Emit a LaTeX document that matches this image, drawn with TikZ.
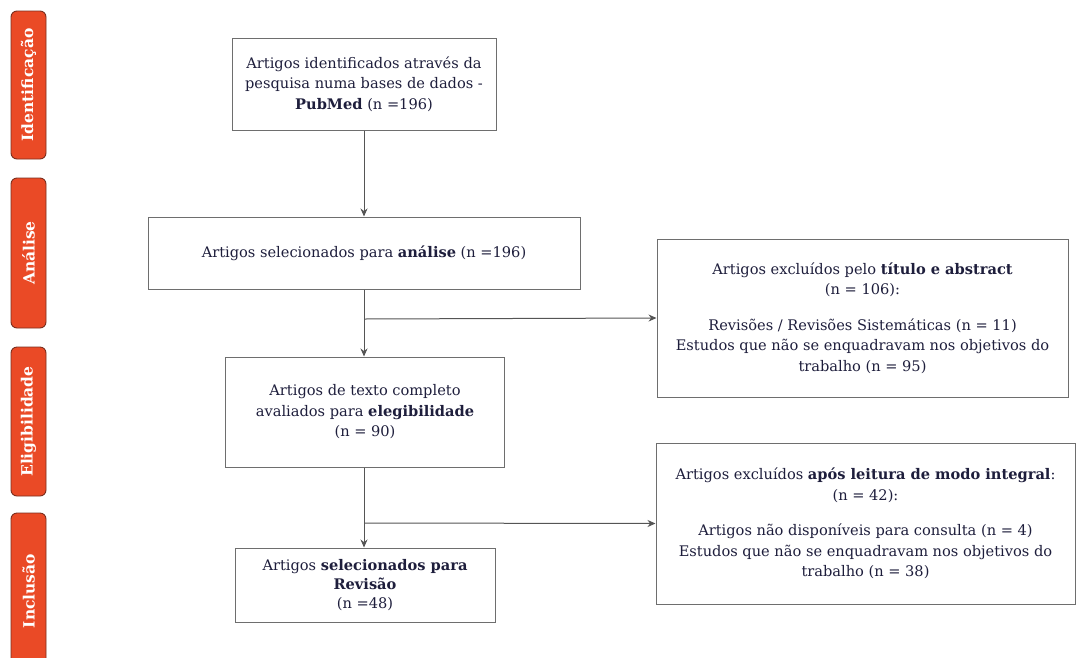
\documentclass[tikz,border=0pt]{standalone}
\usepackage{fontspec}
\setmainfont{DejaVu Serif}
\usetikzlibrary{arrows.meta}
\definecolor{txt}{HTML}{1E1E3C}
\definecolor{lab}{HTML}{EA4A26}
\definecolor{labedge}{HTML}{7A2E1E}
\definecolor{ln}{HTML}{555555}
\tikzset{
  box/.style={draw=ln!85, line width=1pt, fill=white, align=center, text=txt,
    inner sep=0pt, font=\fontsize{14.6}{20.5}\selectfont},
  sidelab/.style={draw=labedge, line width=0.9pt, fill=lab, rounded corners=6pt,
    minimum width=35pt, text=white, font=\bfseries\fontsize{15.5}{17}\selectfont,
    inner sep=0pt},
  conn/.style={draw=ln, line width=1pt},
  arr/.style={conn, -{Stealth[length=8pt,width=7pt]}}
}
\begin{document}
\begin{tikzpicture}[x=1pt,y=-1pt]
\useasboundingbox (0,0) rectangle (1077,657);
% side labels
\node[sidelab, minimum height=148pt] (l1) at (28.5,85) {\rotatebox{90}{Identificação}};
\node[sidelab, minimum height=150pt] (l2) at (28.5,253) {\rotatebox{90}{Análise}};
\node[sidelab, minimum height=149pt] (l3) at (28.5,421.5) {\rotatebox{90}{Eligibilidade}};
\node[sidelab, minimum height=156pt] (l4) at (28.5,591) {\rotatebox{90}{Inclusão}};
% main boxes
\node[box, minimum width=264pt, minimum height=92pt] (b1) at (364,84)
  {Artigos identificados através da\\ pesquisa numa bases de dados -\\ \textbf{PubMed} (n =196)};
\node[box, minimum width=432pt, minimum height=72pt] (b2) at (364,253)
  {Artigos selecionados para \textbf{análise} (n =196)};
\node[box, minimum width=279pt, minimum height=110pt] (b3) at (365,412)
  {Artigos de texto completo\\ avaliados para \textbf{elegibilidade}\\ (n = 90)};
\node[box, minimum width=260pt, minimum height=74pt, font=\fontsize{14.6}{19}\selectfont] (b4) at (365,585)
  {Artigos \textbf{selecionados para}\\ \textbf{Revisão}\\ (n =48)};
% exclusion boxes
\node[box, minimum width=411pt, minimum height=158pt] (r1) at (862.5,318)
  {Artigos excluídos pelo \textbf{título e abstract}\\ (n = 106):\\[15pt]
   Revisões / Revisões Sistemáticas (n = 11)\\
   Estudos que não se enquadravam nos objetivos do\\ trabalho (n = 95)};
\node[box, minimum width=419pt, minimum height=161pt] (r2) at (865.5,523.5)
  {Artigos excluídos \textbf{após leitura de modo integral}:\\ (n = 42):\\[15pt]
   Artigos não disponíveis para consulta (n = 4)\\
   Estudos que não se enquadravam nos objetivos do\\ trabalho (n = 38)};
% connectors
\coordinate (c1) at (364,319);
\coordinate (c2) at (364,523);
\draw[arr] (b1.south) -- (b2.north);
\draw[arr] (b2.south) -- (b2.south |- b3.north);
\draw[arr] (b2.south |- b3.south) -- (b2.south |- b4.north);
\draw[arr] (c1) -- (r1.west);
\draw[arr] (c2) -- (r2.west);
\end{tikzpicture}
\end{document}
